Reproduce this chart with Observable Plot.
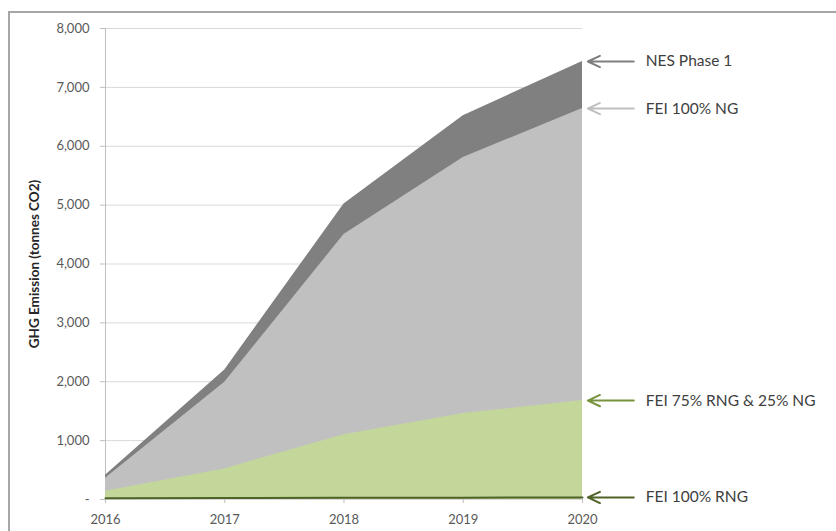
<!DOCTYPE html>
<html>
<head>
<meta charset="utf-8">
<script src="https://cdn.jsdelivr.net/npm/d3@7"></script>
<script src="https://cdn.jsdelivr.net/npm/@observablehq/plot@0.6"></script>
<style>
  html, body { margin: 0; padding: 0; background: #fff; }
  #wrap { position: relative; width: 836px; height: 531px; overflow: hidden; }
  #border { position: absolute; left: 8px; top: 11px; width: 840px; height: 540px;
            border-top: 2px solid #a6a6a6; border-left: 2px solid #a6a6a6; pointer-events: none; }
</style>
</head>
<body>
<div id="wrap"><div id="border"></div></div>
<script>
// Annual GHG emissions (tonnes CO2) for each supply scenario
const years = [2016, 2017, 2018, 2019, 2020];
const nesPhase1 = [410, 2200, 5020, 6520, 7440];
const fei100NG = [360, 1990, 4500, 5810, 6640];
const fei75RNG = [140, 520, 1100, 1460, 1680];
const fei100RNG = [20, 25, 30, 30, 35];

const seriesNames = ["NES Phase 1", "FEI 100% NG", "FEI 75% RNG & 25% NG", "FEI 100% RNG"];
const seriesValues = [nesPhase1, fei100NG, fei75RNG, fei100RNG];
const fillColors = ["#808080", "#c0c0c0", "#c4d79b", "#4f6228"];
const arrowColors = ["#7f7f7f", "#bfbfbf", "#77933c", "#4f6228"];
const yTicks = [0, 1000, 2000, 3000, 4000, 5000, 6000, 7000, 8000];

// Long table: one row per scenario and year
const rows = seriesNames.flatMap((name, i) =>
  years.map((year, j) => ({name, year, value: seriesValues[i][j], fill: fillColors[i]}))
);
const lastYear = years[years.length - 1];
const endLabels = seriesNames.map((name, i) => ({
  name, value: seriesValues[i][seriesValues[i].length - 1], color: arrowColors[i]
}));

const font = "Lato, 'Open Sans', sans-serif";

const chart = Plot.plot({
  width: 836,
  height: 531,
  marginTop: 28,
  marginBottom: 32,
  marginLeft: 105,
  marginRight: 254,
  style: {fontFamily: font, fontSize: "13px", color: "#595959", background: "transparent"},
  x: {domain: [years[0], lastYear], ticks: years, tickFormat: d => String(d)},
  y: {domain: [0, 8000], ticks: yTicks},
  marks: [
    Plot.gridY(yTicks, {stroke: "#d9d9d9", strokeOpacity: 1, x1: years[0], x2: lastYear}),
    Plot.axisY({
      ticks: yTicks, tickSize: 5, tickPadding: 11, stroke: "#bfbfbf",
      tickFormat: d => d === 0 ? "-" : d3.format(",")(d),
      label: "GHG Emission (tonnes CO2)", labelAnchor: "center", labelArrow: false, labelOffset: 76,
      fontSize: 13
    }),
    Plot.axisX({ticks: years, tickSize: 4, tickPadding: 11, stroke: "#bfbfbf", label: null,
      tickFormat: d => String(d), fontSize: 13}),
    Plot.ruleX([years[0]], {stroke: "#bfbfbf"}),
    // Scenario areas overlap from the back (largest) to the front (smallest)
    ...seriesNames.slice(0, 3).map((name, i) =>
      Plot.areaY(rows.filter(r => r.name === name), {x: "year", y: "value", fill: fillColors[i], fillOpacity: 1})
    ),
    Plot.lineY(rows.filter(r => r.name === seriesNames[3]), {x: "year", y: "value", stroke: fillColors[3], strokeWidth: 2}),
    // End-of-series pointers and names
    Plot.arrow(endLabels, {
      x1: lastYear + 0.43, x2: lastYear + 0.045, y1: "value", y2: "value",
      stroke: "color", strokeWidth: 2, headLength: 10, headAngle: 50
    }),
    Plot.text(endLabels, {
      x: lastYear + 0.53, y: "value", text: "name", textAnchor: "start",
      fill: "#404040", fontSize: 15.5, fontFamily: font
    })
  ]
});

document.getElementById("wrap").prepend(chart);
chart.style.position = "absolute";
chart.style.left = "0";
chart.style.top = "0";
// bold axis title
chart.querySelectorAll("[aria-label='y-axis label'] text").forEach(t => {
  t.setAttribute("font-weight", "bold");
  t.setAttribute("fill", "#262626");
  t.setAttribute("font-size", "13.5");
});
</script>
</body>
</html>
